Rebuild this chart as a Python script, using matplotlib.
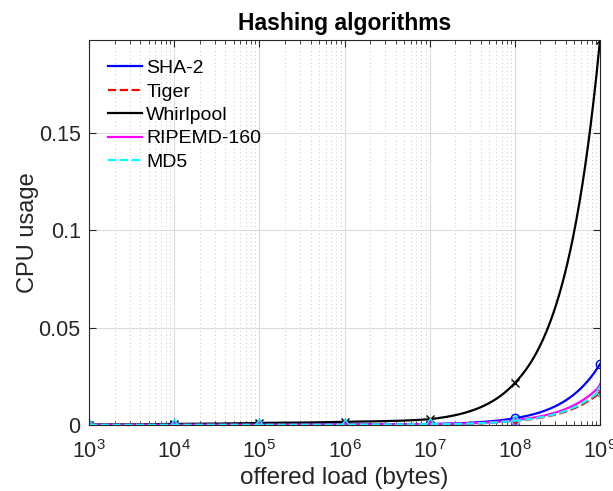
import matplotlib
matplotlib.use("Agg")
import matplotlib.pyplot as plt
import numpy as np
from matplotlib.path import Path
from matplotlib.ticker import LogLocator, NullFormatter

plt.rcParams["font.family"] = ["Liberation Sans", "DejaVu Sans"]
plt.rcParams["mathtext.fontset"] = "custom"
plt.rcParams["mathtext.rm"] = "Liberation Sans"
plt.rcParams["mathtext.it"] = "Liberation Sans:italic"

# offered load (bytes) and CPU usage per algorithm
load = [1e3, 1e4, 1e5, 1e6, 1e7, 1e8, 1e9]
sha2 = [0.0001, 0.0001, 0.0002, 0.0003, 0.0005, 0.0035, 0.0313]
tiger = [0.0001, 0.0001, 0.0001, 0.0002, 0.0003, 0.0021, 0.0167]
whirlpool = [0.0002, 0.0006, 0.0011, 0.0017, 0.0030, 0.0216, 0.1978]
ripemd = [0.0001, 0.0001, 0.0001, 0.0002, 0.0004, 0.0025, 0.0200]
md5 = [0.0001, 0.0001, 0.0001, 0.0002, 0.0003, 0.0022, 0.0177]

names = ["SHA-2", "Tiger", "Whirlpool", "RIPEMD-160", "MD5"]
series = [sha2, tiger, whirlpool, ripemd, md5]
colors = ["#0000ff", "#ff0000", "#000000", "#ff00ff", "#00ffff"]
styles = ["-", "--", "-", "-", "--"]
markers = ["o", "*", "x", "^", "d"]


def straight_in_data(x, y, steps=80):
    # segments are straight in linear data space, so subdivide them before the log transform
    p = Path(np.column_stack([x, y])).interpolated(steps)
    return p.vertices[:, 0], p.vertices[:, 1]


fig = plt.figure(figsize=(6.13, 4.91), dpi=100)
ax = fig.add_axes([0.1452, 0.1344, 0.8336, 0.7841])

for name, vals, c, ls, m in zip(names, series, colors, styles, markers):
    xs, ys = straight_in_data(load, vals)
    ax.plot(xs, ys, color=c, linestyle=ls, linewidth=1.6, label=name)
    ax.plot(load, vals, linestyle="none", marker=m, color=c,
            markerfacecolor="none" if m != "*" else c, markersize=6, markeredgewidth=1.0)

ax.set_xscale("log")
ax.set_xlim(1e3, 1e9)
ax.set_ylim(0, max(whirlpool))
ax.set_yticks([0, 0.05, 0.1, 0.15])
ax.set_yticklabels(["0", "0.05", "0.1", "0.15"])
ax.xaxis.set_major_locator(LogLocator(base=10, numticks=10))
ax.xaxis.set_minor_locator(LogLocator(base=10, subs=np.arange(2, 10), numticks=20))
ax.xaxis.set_minor_formatter(NullFormatter())

ax.grid(True, which="major", color="#dcdcdc", linewidth=0.8)
ax.grid(True, which="minor", axis="x", color="#c8c8c8", linestyle=(0, (1, 3)), linewidth=0.7)
ax.set_axisbelow(True)

ax.tick_params(which="both", direction="in", top=True, right=True, colors="#262626",
               labelsize=15.5, labelcolor="#262626")
ax.tick_params(which="major", length=5)
ax.tick_params(axis="x", which="major", pad=11)
ax.tick_params(axis="y", which="major", pad=6)
ax.tick_params(which="minor", length=3)
for s in ax.spines.values():
    s.set_color("#262626")
    s.set_linewidth(0.8)

ax.set_xlabel("offered load (bytes)", fontsize=17.5, color="#262626", labelpad=3)
ax.set_ylabel("CPU usage", fontsize=17, color="#262626", labelpad=0)
ax.set_title("Hashing algorithms", fontsize=16.5, fontweight="bold", pad=7)

ax.legend(loc="upper left", frameon=False, fontsize=14, handlelength=1.75,
          borderaxespad=0.6, labelspacing=0.3, handletextpad=0.2)

fig.savefig("out.png", dpi=100)
